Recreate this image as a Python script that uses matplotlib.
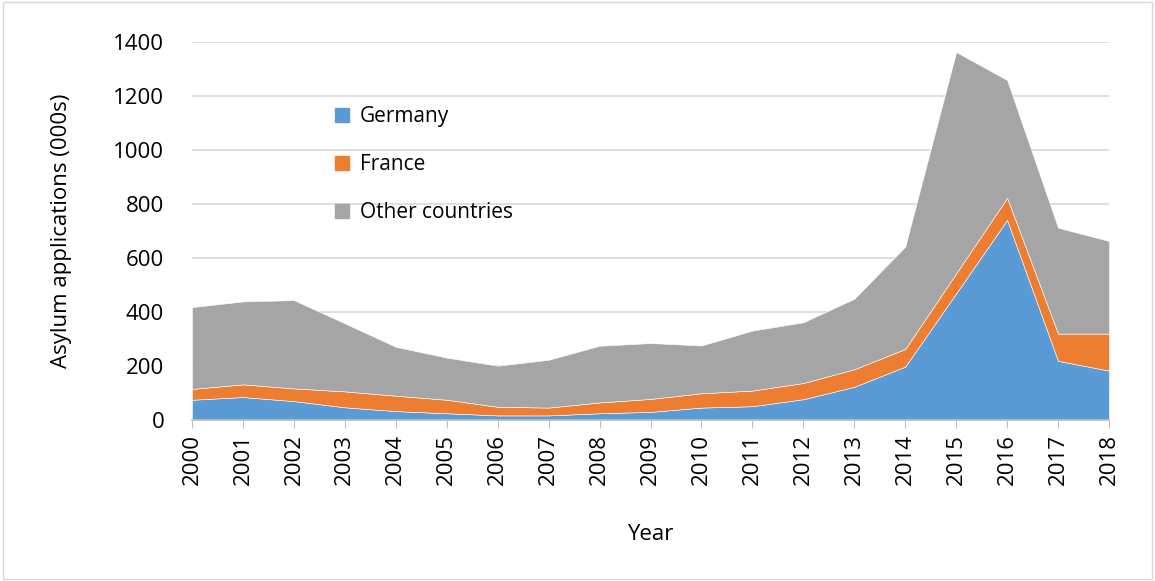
import matplotlib
matplotlib.use("Agg")
import matplotlib.pyplot as plt
from matplotlib.patches import Patch, Rectangle

plt.rcParams['font.family'] = ['Open Sans', 'DejaVu Sans']

years = list(range(2000, 2019))
germany = [75, 85, 70, 47, 33, 25, 17, 17, 25, 30, 46, 51, 77, 123, 198, 469, 741, 219, 183]
france_top = [115, 132, 117, 106, 90, 75, 49, 46, 65, 78, 99, 109, 137, 188, 263, 543, 823, 320, 320]
total = [418, 439, 444, 358, 271, 231, 201, 223, 275, 285, 276, 331, 362, 449, 642, 1363, 1259, 712, 663]

france = [f - g for f, g in zip(france_top, germany)]
other = [t - f for t, f in zip(total, france_top)]

col_de = '#5b9bd5'
col_fr = '#ed7d31'
col_ot = '#a5a5a5'

fig = plt.figure(figsize=(11.55, 5.81), dpi=100)
ax = fig.add_axes([192 / 1155, 1 - 420 / 581, (1109 - 192) / 1155, (420 - 42) / 581])

ax.stackplot(years, germany, france, other, colors=[col_de, col_fr, col_ot],
             edgecolor='white', linewidth=0.4)

ax.set_xlim(2000, 2018)
ax.set_ylim(0, 1400)
ax.set_yticks(range(0, 1401, 200))
ax.set_xticks(years)
ax.set_xticklabels([str(y) for y in years], rotation=90, fontsize=16)
ax.tick_params(axis='y', labelsize=16, length=0, pad=20)
ax.tick_params(axis='x', length=6, color='#bfbfbf', pad=4)
ax.grid(axis='y', color='#d9d9d9', linewidth=1.2)
ax.set_axisbelow(True)
for s in ['top', 'right', 'left']:
    ax.spines[s].set_visible(False)
ax.spines['bottom'].set_color('#bfbfbf')
ax.spines['bottom'].set_linewidth(1.2)

ax.set_ylabel('Asylum applications (000s)', fontsize=16, labelpad=30)
ax.set_xlabel('Year', fontsize=16, labelpad=28)

handles = [Patch(color=col_de, label='Germany'),
           Patch(color=col_fr, label='France'),
           Patch(color=col_ot, label='Other countries')]
ax.legend(handles=handles, loc='upper left', bbox_to_anchor=(0.135, 0.88),
          frameon=False, fontsize=15, handlelength=0.7, handleheight=0.7,
          handletextpad=0.5, labelspacing=1.3)

fig.patches.append(Rectangle((0.003, 0.003), 0.994, 0.994, transform=fig.transFigure,
                             fill=False, edgecolor='#d9d9d9', linewidth=1))

fig.savefig('out.png', dpi=100)
